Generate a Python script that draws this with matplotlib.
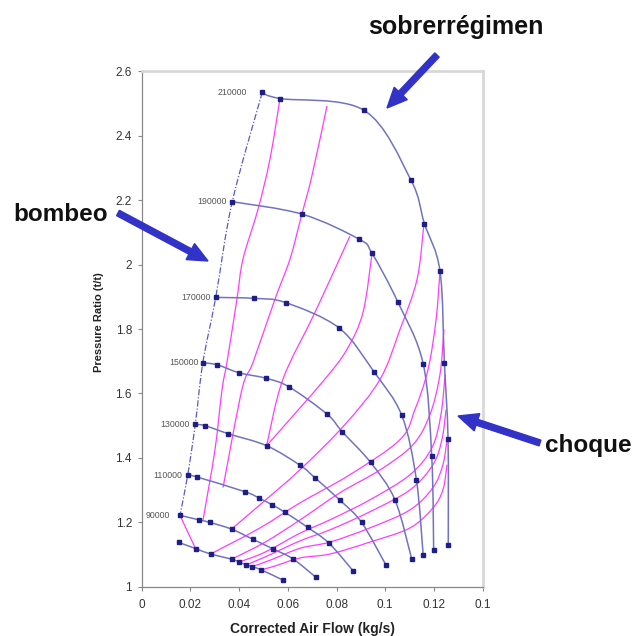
import numpy as np
import matplotlib
matplotlib.use('Agg')
import matplotlib.pyplot as plt
from matplotlib.path import Path
from matplotlib.patches import PathPatch, FancyArrow

plt.rcParams['font.family'] = ['Liberation Sans', 'DejaVu Sans']

# speed lines (corrected air flow kg/s, pressure ratio t/t)
s210_x = [0.0495, 0.0568, 0.0914, 0.1105, 0.1161, 0.1225, 0.1243, 0.1258, 0.1259]
s210_y = [2.534, 2.515, 2.478, 2.263, 2.127, 1.980, 1.695, 1.460, 1.130]
s190_x = [0.0372, 0.0660, 0.0894, 0.0945, 0.1051, 0.1156, 0.1191, 0.1199]
s190_y = [2.195, 2.156, 2.078, 2.036, 1.885, 1.692, 1.405, 1.114]
s170_x = [0.0304, 0.0461, 0.0591, 0.0811, 0.0954, 0.1068, 0.1128, 0.1156]
s170_y = [1.898, 1.895, 1.882, 1.803, 1.667, 1.532, 1.333, 1.098]
s150_x = [0.0251, 0.0310, 0.0401, 0.0512, 0.0606, 0.0761, 0.0824, 0.0940, 0.1040, 0.1109]
s150_y = [1.695, 1.689, 1.664, 1.647, 1.620, 1.536, 1.481, 1.386, 1.270, 1.086]
s130_x = [0.0220, 0.0261, 0.0356, 0.0513, 0.0651, 0.0712, 0.0814, 0.0903, 0.1003]
s130_y = [1.504, 1.500, 1.475, 1.438, 1.377, 1.338, 1.269, 1.200, 1.068]
s110_x = [0.0189, 0.0227, 0.0425, 0.0483, 0.0535, 0.0589, 0.0681, 0.0770, 0.0869]
s110_y = [1.347, 1.341, 1.295, 1.275, 1.255, 1.231, 1.185, 1.135, 1.049]
s90_x = [0.0157, 0.0235, 0.0280, 0.0370, 0.0456, 0.0539, 0.0621, 0.0715]
s90_y = [1.222, 1.208, 1.200, 1.179, 1.148, 1.118, 1.087, 1.030]
s70_x = [0.0152, 0.0221, 0.0283, 0.0370, 0.0400, 0.0428, 0.0453, 0.0491, 0.0580]
s70_y = [1.138, 1.119, 1.102, 1.086, 1.077, 1.069, 1.063, 1.053, 1.021]

speed_x = [s210_x, s190_x, s170_x, s150_x, s130_x, s110_x, s90_x, s70_x]
speed_y = [s210_y, s190_y, s170_y, s150_y, s130_y, s110_y, s90_y, s70_y]
speed_names = ['210000', '190000', '170000', '150000', '130000', '110000', '90000', '']

# surge line through the first point of each speed line
surge_x = [0.0495, 0.0372, 0.0304, 0.0251, 0.0220, 0.0189, 0.0157]
surge_y = [2.534, 2.195, 1.898, 1.695, 1.504, 1.347, 1.222]

# pink lines
pk_x = [
    [0.0157, 0.0221],
    [0.0568, 0.0527, 0.0478, 0.0416, 0.0391, 0.0350, 0.0330, 0.0301, 0.0252],
    [0.0761, 0.0699, 0.0658, 0.0609, 0.0547, 0.0457, 0.0412, 0.0334],
    [0.0855, 0.0712, 0.0580, 0.0513],
    [0.0946, 0.0909, 0.0843, 0.0745, 0.0513],
    [0.1159, 0.1131, 0.1061, 0.0979, 0.0835, 0.0651, 0.0486, 0.0370],
    [0.1225, 0.1209, 0.1176, 0.1122, 0.1061, 0.0855, 0.0651, 0.0486, 0.0283],
    [0.1241, 0.1225, 0.1184, 0.1114, 0.0979, 0.0814, 0.0651, 0.0507, 0.0370],
    [0.1246, 0.1229, 0.1192, 0.1102, 0.0937, 0.0773, 0.0651, 0.0507, 0.0400],
    [0.1250, 0.1233, 0.1196, 0.1102, 0.0937, 0.0773, 0.0651, 0.0507, 0.0428],
    [0.1254, 0.1237, 0.1196, 0.1102, 0.0937, 0.0773, 0.0651, 0.0528, 0.0453],
    [0.1254, 0.1237, 0.1196, 0.1102, 0.0937, 0.0773, 0.0651, 0.0548, 0.0491],
]
pk_y = [
    [1.222, 1.119],
    [2.515, 2.328, 2.172, 2.017, 1.892, 1.696, 1.613, 1.426, 1.208],
    [2.492, 2.275, 2.157, 2.017, 1.892, 1.696, 1.613, 1.308],
    [2.088, 1.852, 1.644, 1.438],
    [2.035, 1.852, 1.737, 1.638, 1.438],
    [2.126, 1.955, 1.799, 1.644, 1.504, 1.364, 1.255, 1.180],
    [1.980, 1.830, 1.675, 1.550, 1.457, 1.348, 1.261, 1.183, 1.102],
    [1.799, 1.659, 1.535, 1.441, 1.363, 1.292, 1.208, 1.139, 1.086],
    [1.659, 1.535, 1.432, 1.348, 1.270, 1.208, 1.167, 1.108, 1.077],
    [1.550, 1.457, 1.379, 1.301, 1.233, 1.177, 1.143, 1.093, 1.068],
    [1.457, 1.379, 1.308, 1.239, 1.183, 1.139, 1.120, 1.083, 1.063],
    [1.379, 1.301, 1.245, 1.183, 1.139, 1.102, 1.090, 1.065, 1.053],
]

x_ticks = [0, 0.02, 0.04, 0.06, 0.08, 0.1, 0.12, 0.14]
x_ticklabels = ['0', '0.02', '0.04', '0.06', '0.08', '0.1', '0.12', '0.1']
y_ticks = [1, 1.2, 1.4, 1.6, 1.8, 2, 2.2, 2.4, 2.6]
y_ticklabels = ['1', '1.2', '1.4', '1.6', '1.8', '2', '2.2', '2.4', '2.6']


def smooth_path(xs, ys):
    # excel style smoothed line: catmull-rom as cubic bezier
    p = np.column_stack([xs, ys]).astype(float)
    n = len(p)
    verts = [p[0]]
    codes = [Path.MOVETO]
    for i in range(n - 1):
        p0 = p[i - 1] if i > 0 else p[i]
        p3 = p[i + 2] if i + 2 < n else p[i + 1]
        verts += [p[i] + (p[i + 1] - p0) / 6, p[i + 1] - (p3 - p[i]) / 6, p[i + 1]]
        codes += [Path.CURVE4] * 3
    return Path(verts, codes)


fig = plt.figure(figsize=(6.34, 6.36), dpi=100)
ax = fig.add_axes([0.2235, 0.0772, 0.5377, 0.811])
ax.set_xlim(0, 0.14)
ax.set_ylim(1, 2.6)

blue = '#7272c2'
pink = '#ff3cff'

for xs, ys in zip(pk_x, pk_y):
    ax.add_patch(PathPatch(smooth_path(xs, ys), fill=False, ec=pink, lw=0.9, zorder=2))

for xs, ys in zip(speed_x, speed_y):
    ax.add_patch(PathPatch(smooth_path(xs, ys), fill=False, ec=blue, lw=1.1, zorder=3))
    ax.plot(xs, ys, ls='none', marker='s', ms=2.3, color='#1e1e86', zorder=4)

ax.add_patch(PathPatch(smooth_path(surge_x, surge_y), fill=False, ec='#5a5ac8', lw=0.9,
                       ls=(0, (5, 1.5, 1, 1.5)), zorder=3))

label_gap = [-11, -4, -4, -3, -4, -4, -7, 0]
for xs, ys, name, gap in zip(speed_x, speed_y, speed_names, label_gap):
    if name:
        ax.annotate(name, (xs[0], ys[0]), xytext=(gap, 0), textcoords='offset points',
                    ha='right', va='center', fontsize=6.3, color='#555555')

ax.set_xticks(x_ticks)
ax.set_xticklabels(x_ticklabels)
ax.set_yticks(y_ticks)
ax.set_yticklabels(y_ticklabels)
ax.tick_params(axis='both', direction='out', length=3, width=0.8, color='#888888',
               labelsize=8.5, labelcolor='#333333')
ax.tick_params(axis='x', pad=6)
ax.tick_params(axis='y', pad=4)

ax.spines['left'].set_color('#888888')
ax.spines['bottom'].set_color('#888888')
ax.spines['left'].set_linewidth(0.9)
ax.spines['bottom'].set_linewidth(0.9)
ax.spines['top'].set_color('#d8d8d8')
ax.spines['right'].set_color('#d8d8d8')
ax.spines['top'].set_linewidth(2)
ax.spines['right'].set_linewidth(2)

W, H = 634.0, 636.0
fig.text(312 / W, 1 - 629 / H, 'Corrected Air Flow (kg/s)', ha='center', va='center',
         fontsize=10, fontweight='bold', color='#222222')
fig.text(99 / W, 1 - 322 / H, 'Pressure Ratio (t/t)', ha='center', va='center',
         rotation=90, fontsize=8, fontweight='bold', color='#222222')

fig.text(368 / W, 1 - 34 / H, 'sobrerrégimen', ha='left', va='baseline',
         fontsize=18, fontweight='bold', color='#111111')
fig.text(13 / W, 1 - 221 / H, 'bombeo', ha='left', va='baseline',
         fontsize=17.5, fontweight='bold', color='#111111')
fig.text(545 / W, 1 - 452 / H, 'choque', ha='left', va='baseline',
         fontsize=17.5, fontweight='bold', color='#111111')

arrow_color = '#3232c8'
arrows = [((437, 55), (387, 108)), ((118, 213), (208, 261)), ((540, 443), (458, 416))]
for (x0, y0), (x1, y1) in arrows:
    fig.add_artist(FancyArrow(x0 / W, 1 - y0 / H, (x1 - x0) / W, -(y1 - y0) / H,
                              width=6 / W, head_width=18 / W, head_length=20 / W,
                              length_includes_head=True, color=arrow_color,
                              transform=fig.transFigure))

fig.savefig('out.png', dpi=100)
